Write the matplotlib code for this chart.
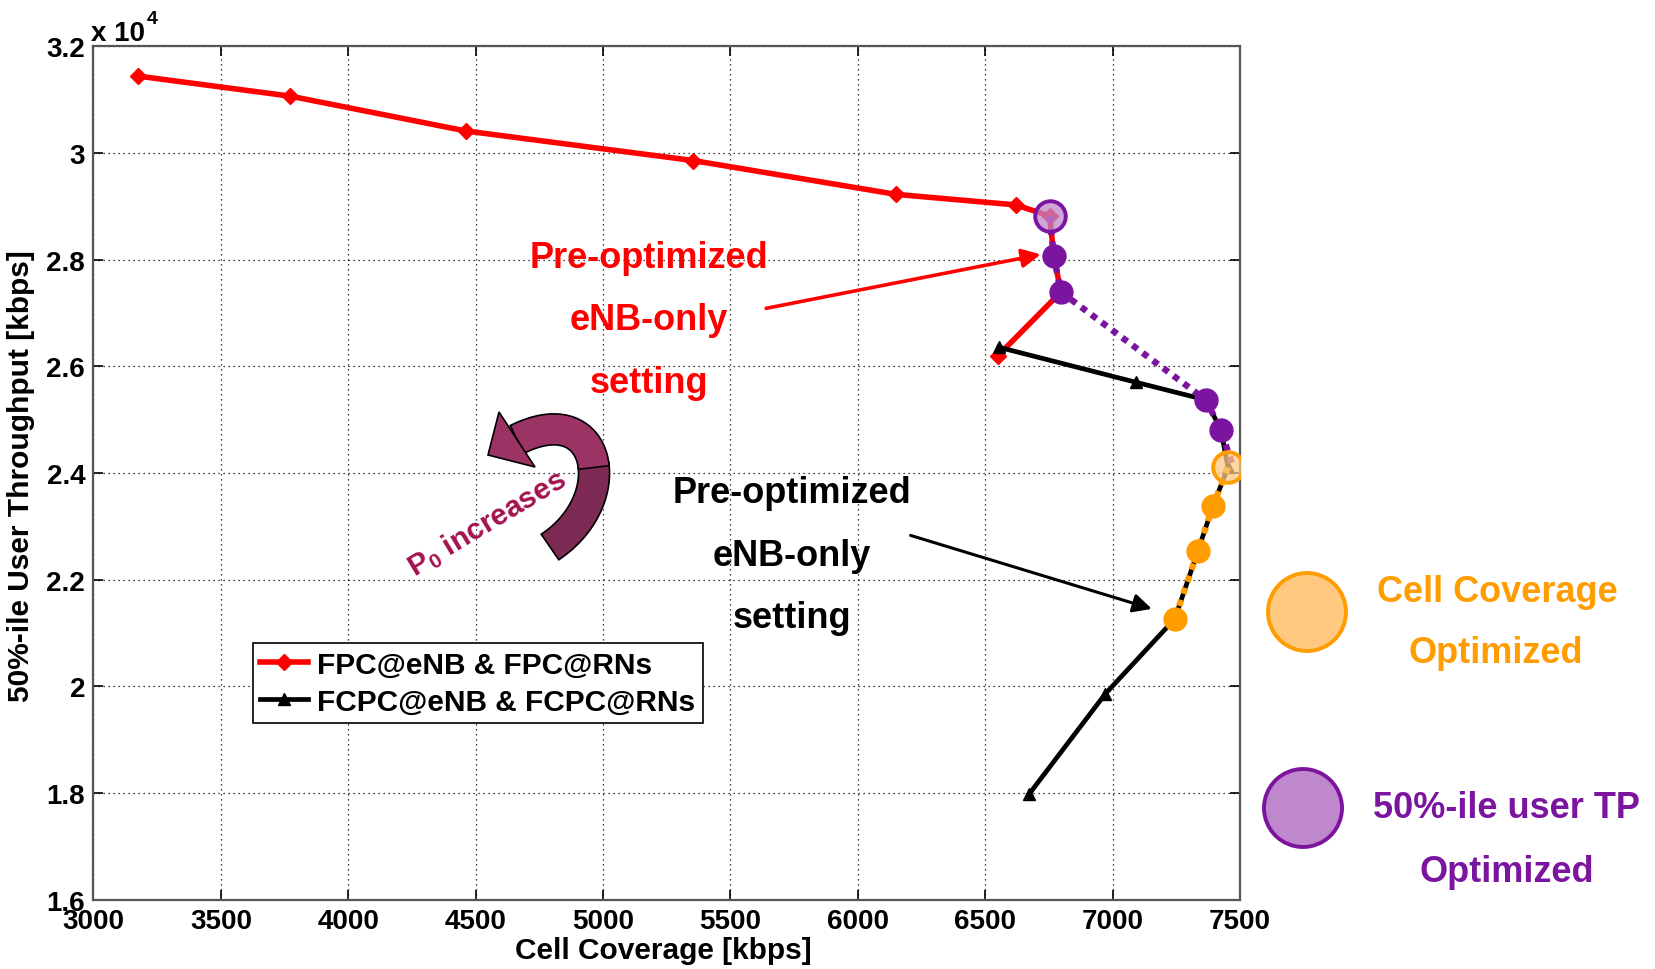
import numpy as np
import matplotlib
matplotlib.use("Agg")
import matplotlib.pyplot as plt
from matplotlib.patches import Circle, Polygon
from matplotlib.ticker import FixedLocator, FuncFormatter

plt.rcParams['font.family'] = ['Liberation Sans', 'DejaVu Sans']
plt.rcParams['font.weight'] = 'bold'
plt.rcParams['mathtext.fontset'] = 'custom'
plt.rcParams['mathtext.rm'] = 'Liberation Sans:bold'
plt.rcParams['mathtext.bf'] = 'Liberation Sans:bold'
plt.rcParams['mathtext.default'] = 'bf'

# cell coverage [kbps] vs 50%-ile user throughput [kbps]
fpc_cov = [3176, 3773, 4462, 5354, 6150, 6619, 6753, 6769, 6797, 6549]
fpc_tp = [31441, 31065, 30412, 29858, 29224, 29027, 28819, 28069, 27394, 26195]

fcpc_cov = [6553, 7091, 7366, 7425, 7453, 7394, 7335, 7244, 6972, 6673]
fcpc_tp = [26358, 25702, 25370, 24808, 24105, 23383, 22540, 21265, 19863, 17985]

# points picked by the 50%-ile throughput criterion
tp_opt_cov = [6753, 6769, 6797, 7366, 7425]
tp_opt_tp = [28819, 28069, 27394, 25370, 24808]
tp_path_cov = tp_opt_cov + [7470]
tp_path_tp = tp_opt_tp + [24150]

# points picked by the cell coverage criterion
cov_opt_cov = [7453, 7394, 7335, 7244]
cov_opt_tp = [24105, 23383, 22540, 21265]

xticks = [3000, 3500, 4000, 4500, 5000, 5500, 6000, 6500, 7000, 7500]
yticks = [16000, 18000, 20000, 22000, 24000, 26000, 28000, 30000, 32000]

RED = '#ff0000'
PURPLE = '#7b149f'
PURPLE_LIGHT = '#bf88cc'
ORANGE = '#ff9c00'
ORANGE_LIGHT = '#ffc97f'
MAROON = '#a3124f'

W, H = 1656, 970
fig = plt.figure(figsize=(W / 100, H / 100), dpi=100)


def fpx(x, y):
    return (x / W, 1 - y / H)


ax = fig.add_axes([93.5 / W, 1 - 900.7 / H, (1240 - 93.5) / W, (900.7 - 47.3) / H])
ax.set_xlim(3000, 7500)
ax.set_ylim(16000, 32000)

l1, = ax.plot(fpc_cov, fpc_tp, color=RED, lw=4.0, marker='D', ms=8.5, zorder=3,
              label='FPC@eNB & FPC@RNs')
l2, = ax.plot(fcpc_cov, fcpc_tp, color='black', lw=3.4, marker='^', ms=9, zorder=3,
              label='FCPC@eNB & FCPC@RNs')

ax.plot(tp_path_cov, tp_path_tp, color=PURPLE, lw=4.6, ls=(0, (1.0, 1.0)), zorder=3.5)
ax.plot(cov_opt_cov, cov_opt_tp, color=ORANGE, lw=4.6, ls=(0, (1.0, 1.0)), zorder=3.5)

ax.plot(tp_opt_cov[1:], tp_opt_tp[1:], ls='none', marker='o', ms=16.5,
        mfc=PURPLE, mec=PURPLE, zorder=4)
ax.plot(cov_opt_cov[1:], cov_opt_tp[1:], ls='none', marker='o', ms=16.5,
        mfc=ORANGE, mec=ORANGE, zorder=4)
# highlighted optimum of each criterion
ax.plot(tp_opt_cov[:1], tp_opt_tp[:1], ls='none', marker='o', ms=22,
        mfc=(0.75, 0.53, 0.8, 0.75), mec=PURPLE, mew=2.8, zorder=5)
ax.plot(cov_opt_cov[:1], cov_opt_tp[:1], ls='none', marker='o', ms=22,
        mfc=(1.0, 0.79, 0.5, 0.75), mec=ORANGE, mew=2.8, zorder=5)

ax.xaxis.set_major_locator(FixedLocator(xticks))
ax.yaxis.set_major_locator(FixedLocator(yticks))
ax.yaxis.set_major_formatter(FuncFormatter(lambda v, p: '%g' % (v / 1e4)))
ax.tick_params(direction='in', length=7, width=1.2, top=True, right=True,
               labelsize=20, pad=6, colors='black')
for s in ax.spines.values():
    s.set_color('#555555')
    s.set_linewidth(1.6)
ax.grid(True, color='black', lw=0.9, ls=(0, (1, 3)))

ax.set_xlabel('Cell Coverage [kbps]', fontsize=21.5, fontweight='bold')
ax.set_ylabel('50%-ile User Throughput [kbps]', fontsize=21.5, fontweight='bold')
ax.xaxis.set_label_coords(0.4967, -0.043)
ax.yaxis.set_label_coords(-0.051, 0.4977)

fig.text(*fpx(91, 41), 'x 10', fontsize=20, ha='left', va='baseline')
fig.text(*fpx(147, 24), '4', fontsize=14, ha='left', va='baseline')

leg = ax.legend(handles=[l1, l2], loc='upper left', bbox_to_anchor=fpx(253, 644),
                bbox_transform=fig.transFigure, borderaxespad=0, fontsize=21.5,
                frameon=True, fancybox=False, framealpha=1, edgecolor='black',
                handlelength=1.6, handletextpad=0.3, labelspacing=0.3,
                borderpad=0.25, markerscale=1.0)
leg.get_frame().set_linewidth(1.2)
leg.set_zorder(10)

# pre-optimized setting callouts
for txt, yb in [('Pre-optimized', 268), ('eNB-only', 330), ('setting', 393)]:
    fig.text(*fpx(649, yb), txt, color=RED, fontsize=26, ha='center', va='baseline')
ax.annotate('', xy=(6718, 28098), xytext=(5640, 27087),
            arrowprops=dict(arrowstyle='-|>', color=RED, lw=2.6, mutation_scale=28,
                            shrinkA=0, shrinkB=0))

for txt, yb in [('Pre-optimized', 503), ('eNB-only', 566), ('setting', 628)]:
    fig.text(*fpx(792, yb), txt, color='black', fontsize=26, ha='center', va='baseline')
ax.annotate('', xy=(7154, 21453), xytext=(6207, 22830),
            arrowprops=dict(arrowstyle='-|>', color='black', lw=2.2, mutation_scale=28,
                            shrinkA=0, shrinkB=0))


# curved "P0 increases" arrow, built in figure pixels
def bez(t, p):
    t = t[:, None]
    return ((1 - t) ** 3 * p[0] + 3 * (1 - t) ** 2 * t * p[1]
            + 3 * (1 - t) * t ** 2 * p[2] + t ** 3 * p[3])


ctrl = np.array([[550, 548], [622, 500], [602, 398], [517, 440.5]], float)
half = 15.5


def ribbon(t0, t1):
    t = np.linspace(t0, t1, 40)
    c = bez(t, ctrl)
    d = np.gradient(c, axis=0)
    d /= np.linalg.norm(d, axis=1)[:, None]
    n = np.stack([-d[:, 1], d[:, 0]], axis=1)
    pts = np.vstack([c + half * n, (c - half * n)[::-1]])
    return [fpx(x, y) for x, y in pts]


fig.add_artist(Polygon(ribbon(0.0, 0.47), closed=True, fc='#7d2a55', ec='black', lw=1.2,
                       transform=fig.transFigure, zorder=6))
fig.add_artist(Polygon(ribbon(0.45, 1.0), closed=True, fc='#9b3465', ec='black', lw=1.2,
                       transform=fig.transFigure, zorder=6))
head = [(499, 413), (488, 456), (535, 468)]
fig.add_artist(Polygon([fpx(x, y) for x, y in head], closed=True, fc='#9b3465', ec='black',
                       lw=1.2, transform=fig.transFigure, zorder=7))
fig.text(*fpx(487, 524), r'P$_0$ increases', color=MAROON, fontsize=21.5, rotation=31,
         ha='center', va='center', rotation_mode='anchor')

# side key for the two optimisation criteria
fig.add_artist(Circle((13.07, (H - 613) / 100), 0.39, fc=ORANGE_LIGHT, ec=ORANGE, lw=2.8,
                      transform=fig.dpi_scale_trans))
fig.add_artist(Circle((13.03, (H - 809) / 100), 0.39, fc=PURPLE_LIGHT, ec=PURPLE, lw=2.8,
                      transform=fig.dpi_scale_trans))
fig.text(*fpx(1497, 602), 'Cell Coverage', color=ORANGE, fontsize=26, ha='center', va='baseline')
fig.text(*fpx(1496, 663), 'Optimized', color=ORANGE, fontsize=26, ha='center', va='baseline')
fig.text(*fpx(1506, 818), '50%-ile user TP', color=PURPLE, fontsize=26, ha='center', va='baseline')
fig.text(*fpx(1507, 882), 'Optimized', color=PURPLE, fontsize=26, ha='center', va='baseline')

fig.savefig('out.png', dpi=100, facecolor='white')
